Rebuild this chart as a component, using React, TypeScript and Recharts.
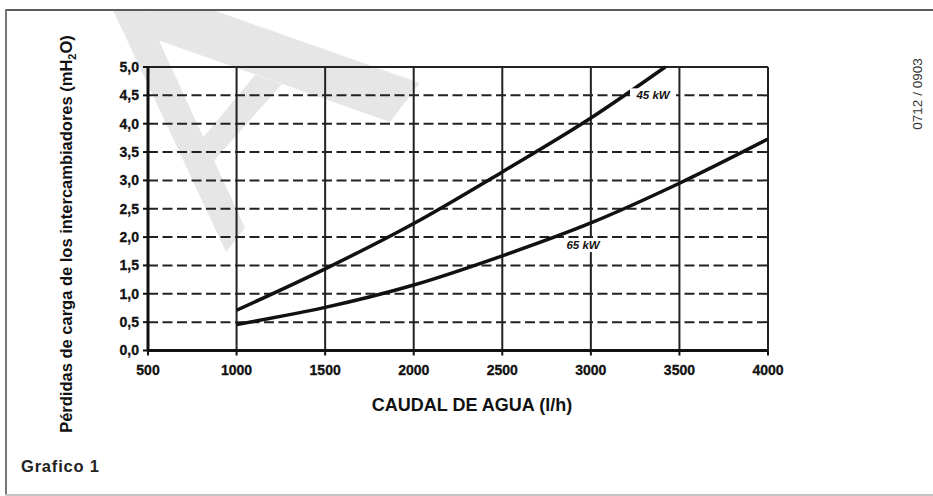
import React from 'react';
import { LineChart, Line, XAxis, YAxis, CartesianGrid, ReferenceLine, ReferenceDot } from 'recharts';

const xTicks = [500, 1000, 1500, 2000, 2500, 3000, 3500, 4000];
const yTicks = [0, 0.5, 1, 1.5, 2, 2.5, 3, 3.5, 4, 4.5, 5];

const flow45 = [1000, 1500, 2000, 2500, 3000, 3420];
const loss45 = [0.71, 1.44, 2.24, 3.15, 4.1, 5.0];

const flow65 = [1000, 1500, 2000, 2500, 3000, 3500, 4000];
const loss65 = [0.46, 0.76, 1.155, 1.67, 2.25, 2.95, 3.73];

const seriesNames = ['45 kW', '65 kW'];
const xTitle = 'CAUDAL DE AGUA (l/h)';
const yTitleMain = 'Pérdidas de carga de los intercambiadores (mH';
const captionText = 'Grafico 1';
const codeText = '0712 / 0903';

const FONT = "'Liberation Sans', Arial, Helvetica, sans-serif";
const INK = '#111';

const d45 = flow45.map((x, i) => ({ x, y: loss45[i] }));
const d65 = flow65.map((x, i) => ({ x, y: loss65[i] }));

const fmtY = (v: number) => v.toFixed(1).replace('.', ',');

const makeTag = (text: string, w: number) => (props: any) => {
  const { cx, cy } = props;
  if (cx == null || cy == null) return <g />;
  return (
    <g>
      <rect x={cx - w / 2} y={cy - 7} width={w} height={14} fill="#fff" />
      <text x={cx} y={cy + 4} textAnchor="middle" fontFamily={FONT} fontSize={11.5}
        fontWeight="bold" fontStyle="italic" fill={INK}>{text}</text>
    </g>
  );
};

const tickStyle = { fill: INK, fontSize: 14, fontWeight: 'bold', fontFamily: FONT, stroke: INK, strokeWidth: 0.3 };

export default function App() {
  return (
    <div style={{ position: 'absolute', left: 0, top: 0, width: 933, height: 496, background: '#fff', overflow: 'hidden' }}>
      {/* watermark */}
      <svg width={933} height={496} style={{ position: 'absolute', left: 0, top: 0 }}>
        <g fill="#e6e6e6">
          <polygon points="113,10 145,10 245,228 226,252" />
          <polygon points="145,10 213,10 420,83 390,122 152,38" />
          <polygon points="201,140 255,75 282,84 212,163" />
        </g>
      </svg>
      <div style={{ position: 'absolute', left: 0, top: 0 }}>
        <LineChart width={933} height={496} margin={{ top: 67, right: 165, bottom: 115.5, left: 108 }}>
          <CartesianGrid vertical={false} stroke="#222" strokeWidth={2} strokeDasharray="10 4.5" />
          <CartesianGrid horizontal={false} stroke="#222" strokeWidth={2} />
          <ReferenceLine y={5} stroke="#222" strokeWidth={2} />
          <XAxis type="number" dataKey="x" domain={[500, 4000]} ticks={xTicks} height={30}
            axisLine={{ stroke: INK, strokeWidth: 3 }} tickLine={{ stroke: INK, strokeWidth: 2 }}
            tickSize={5} tickMargin={10} interval={0} tick={tickStyle} />
          <YAxis type="number" domain={[0, 5]} ticks={yTicks} width={40}
            axisLine={{ stroke: INK, strokeWidth: 3 }} tickLine={{ stroke: INK, strokeWidth: 2 }}
            tickSize={5} tickMargin={4} interval={0} tickFormatter={fmtY} tick={tickStyle} />
          <Line data={d45} dataKey="y" name={seriesNames[0]} type="monotone" stroke={INK}
            strokeWidth={3.5} dot={false} isAnimationActive={false} />
          <Line data={d65} dataKey="y" name={seriesNames[1]} type="monotone" stroke={INK}
            strokeWidth={3.5} dot={false} isAnimationActive={false} />
          <ReferenceDot x={3351} y={4.5} r={0} shape={makeTag(seriesNames[0], 46)} />
          <ReferenceDot x={2956} y={1.86} r={0} shape={makeTag(seriesNames[1], 44)} />
        </LineChart>
      </div>
      {/* frame and texts */}
      <svg width={933} height={496} style={{ position: 'absolute', left: 0, top: 0, pointerEvents: 'none' }}>
        <line x1={5} y1={10} x2={933} y2={10} stroke="#5a5a5a" strokeWidth={2} />
        <line x1={6} y1={9} x2={6} y2={496} stroke="#777" strokeWidth={2} />
        <line x1={5} y1={495} x2={933} y2={495} stroke="#c4c4c4" strokeWidth={2} />
        <text transform="translate(72,234) rotate(-90)" textAnchor="middle" fontFamily={FONT}
          fontSize={16.5} fontWeight="bold" fill={INK}>
          {yTitleMain}<tspan dy={4} fontSize={11}>2</tspan><tspan dy={-4}>O)</tspan>
        </text>
        <text x={472} y={411} textAnchor="middle" fontFamily={FONT} fontSize={18} fontWeight="bold" fill={INK}>{xTitle}</text>
        <text x={21} y={472} fontFamily={FONT} fontSize={16.5} fontWeight="bold" fill="#222"
          textLength={78}>{captionText}</text>
        <text transform="translate(922,94) rotate(-90)" textAnchor="middle" fontFamily={FONT}
          fontSize={13.5} fill="#333">{codeText}</text>
      </svg>
    </div>
  );
}
